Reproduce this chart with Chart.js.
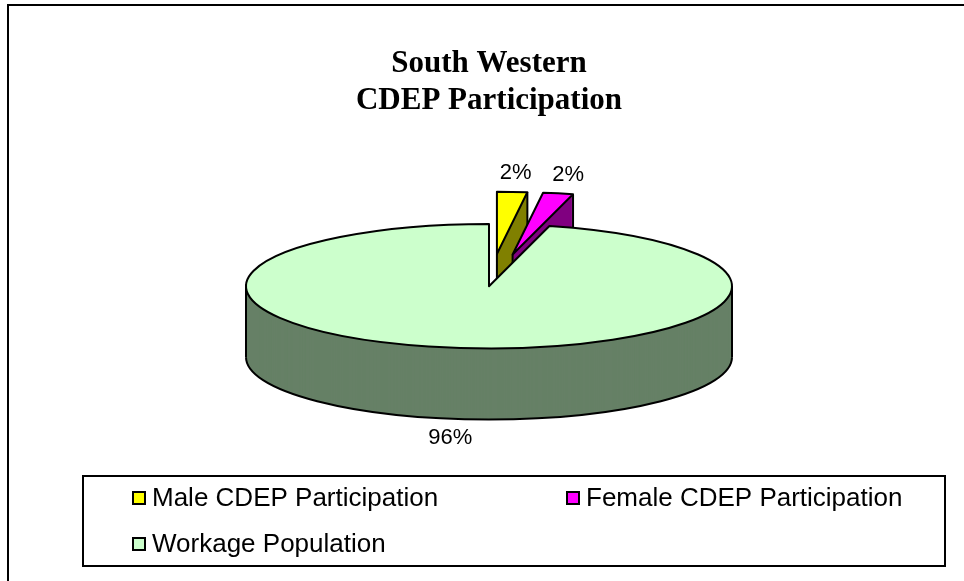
<!DOCTYPE html>
<html>
<head>
<meta charset="utf-8">
<script src="https://cdn.jsdelivr.net/npm/chart.js@4"></script>
<style>
  html, body { margin: 0; padding: 0; background: #fff; }
  #wrap { width: 964px; height: 581px; }
</style>
</head>
<body>
<div id="wrap"><canvas id="myChart" width="964" height="581"></canvas></div>
<script>
// data
const sliceLabels = ["Male CDEP Participation", "Female CDEP Participation", "Workage Population"];
const sliceValues = [2, 2, 96];
const titleLines = ["South Western", "CDEP Participation"];

// styles
const topColors = ["#FFFF00", "#FF00FF", "#CCFFCC"];
const sideColors = ["#808000", "#800080", "#668066"];
const explodedSlices = [true, true, false];

const tilt = 0.256;       // flattening of the pie
const depth = 71;         // thickness of the pie in px
const explodeDist = 126;  // pull-out distance of exploded slices
const edgeWidth = 2;
const sansFont = "'Liberation Sans', Arial, sans-serif";
const legendBox = { x: 83, y: 476, w: 862, h: 90, rowGap: 46, firstRow: 22, colX: [50, 484] };

// draw one arc element through Chart.js, flattened and shifted
function fillArc(ctx, arc, dx, dy, color) {
  const opts = arc.options;
  arc.options = Object.assign({}, opts, { backgroundColor: color, borderWidth: 0 });
  ctx.save();
  ctx.translate(arc.x + dx, arc.y + dy);
  ctx.scale(1, tilt);
  ctx.translate(-arc.x, -arc.y);
  arc.draw(ctx);
  ctx.restore();
  arc.options = opts;
}

function shiftOf(arc, i) {
  if (!explodedSlices[i]) return { dx: 0, dy: 0 };
  const mid = (arc.startAngle + arc.endAngle) / 2;
  return { dx: Math.cos(mid) * explodeDist, dy: Math.sin(mid) * explodeDist * tilt };
}

const pie3d = {
  id: "pie3d",
  beforeDatasetsDraw(chart) {
    const ctx = chart.ctx;
    const arcs = chart.getDatasetMeta(0).data;
    // back slices first
    const order = arcs.map((a, i) => i).sort((i, j) => {
      const mi = Math.sin((arcs[i].startAngle + arcs[i].endAngle) / 2);
      const mj = Math.sin((arcs[j].startAngle + arcs[j].endAngle) / 2);
      return mi - mj;
    });
    order.forEach(i => {
      const arc = arcs[i];
      const { dx, dy } = shiftOf(arc, i);
      const cx = arc.x + dx, cy = arc.y + dy;
      const r = arc.outerRadius, ry = r * tilt;

      for (let d = depth; d >= 1; d--) fillArc(ctx, arc, dx, dy + d, sideColors[i]);

      ctx.save();
      ctx.strokeStyle = "#000";
      ctx.lineWidth = edgeWidth;
      ctx.lineJoin = "round";
      // front bottom rim
      const a0 = Math.max(arc.startAngle, 0), a1 = Math.min(arc.endAngle, Math.PI);
      if (a1 > a0) {
        ctx.beginPath();
        ctx.ellipse(cx, cy + depth, r, ry, 0, a0, a1);
        ctx.stroke();
      }
      // silhouette edges
      [0, Math.PI].forEach(a => {
        if (a > arc.startAngle && a < arc.endAngle) {
          const px = cx + r * Math.cos(a), py = cy + ry * Math.sin(a);
          ctx.beginPath();
          ctx.moveTo(px, py);
          ctx.lineTo(px, py + depth);
          ctx.stroke();
        }
      });
      // visible cut faces
      const faces = [];
      if (Math.cos(arc.endAngle) > 0.01) faces.push(arc.endAngle);
      if (-Math.cos(arc.startAngle) > 0.01) faces.push(arc.startAngle);
      faces.forEach(a => {
        const px = cx + r * Math.cos(a), py = cy + ry * Math.sin(a);
        ctx.beginPath();
        ctx.moveTo(cx, cy);
        ctx.lineTo(cx, cy + depth);
        ctx.lineTo(px, py + depth);
        ctx.lineTo(px, py);
        ctx.stroke();
      });

      // top face
      fillArc(ctx, arc, dx, dy, topColors[i]);
      ctx.beginPath();
      ctx.moveTo(cx, cy);
      ctx.ellipse(cx, cy, r, ry, 0, arc.startAngle, arc.endAngle);
      ctx.closePath();
      ctx.stroke();
      ctx.restore();
    });
    return false;
  },
  afterDraw(chart) {
    const ctx = chart.ctx;
    const arcs = chart.getDatasetMeta(0).data;
    const values = chart.data.datasets[0].data;
    const total = values.reduce((s, v) => s + v, 0);

    ctx.save();
    // percentage labels
    ctx.font = "22px " + sansFont;
    ctx.fillStyle = "#000";
    ctx.textAlign = "center";
    ctx.textBaseline = "middle";
    arcs.forEach((arc, i) => {
      const { dx, dy } = shiftOf(arc, i);
      const mid = (arc.startAngle + arc.endAngle) / 2;
      const r = arc.outerRadius;
      const txt = Math.round(values[i] / total * 100) + "%";
      const w = ctx.measureText(txt).width, h = 16, pad = 11;
      let px = arc.x + dx + r * Math.cos(mid);
      let py = arc.y + dy + r * tilt * Math.sin(mid);
      if (Math.sin(mid) > 0) py += depth;
      ctx.fillText(txt, px + Math.cos(mid) * (w / 2 + pad) * 2, py + Math.sin(mid) * (h / 2 + pad));
    });

    // legend
    const lb = legendBox;
    ctx.lineWidth = 2;
    ctx.strokeStyle = "#000";
    ctx.strokeRect(lb.x, lb.y, lb.w, lb.h);
    ctx.font = "26px " + sansFont;
    ctx.textAlign = "left";
    const colors = chart.data.datasets[0].backgroundColor;
    chart.data.labels.forEach((lab, i) => {
      const col = i % 2, row = Math.floor(i / 2);
      const x = lb.x + lb.colX[col];
      const y = lb.y + lb.firstRow + row * lb.rowGap;
      ctx.fillStyle = colors[i];
      ctx.fillRect(x, y - 6, 12, 12);
      ctx.lineWidth = 2;
      ctx.strokeRect(x, y - 6, 12, 12);
      ctx.fillStyle = "#000";
      ctx.fillText(lab, x + 19, y + 1);
    });

    // outer frame (only left and top edges fall inside the picture)
    ctx.beginPath();
    ctx.moveTo(8, chart.height);
    ctx.lineTo(8, 5);
    ctx.lineTo(chart.width, 5);
    ctx.lineWidth = 2;
    ctx.stroke();
    ctx.restore();
  }
};

new Chart(document.getElementById("myChart"), {
  type: "pie",
  data: {
    labels: sliceLabels,
    datasets: [{ data: sliceValues, backgroundColor: topColors, borderWidth: 0 }]
  },
  options: {
    responsive: false,
    animation: false,
    events: [],
    radius: 243,
    layout: { padding: { left: 14, right: 0, top: 0, bottom: 128 } },
    plugins: {
      legend: { display: false },
      tooltip: { enabled: false },
      title: {
        display: true,
        text: titleLines,
        color: "#000",
        font: { family: "'Liberation Serif', 'Times New Roman', serif", size: 31, weight: "bold" },
        padding: { top: 45, bottom: 0 }
      }
    }
  },
  plugins: [pie3d]
});
</script>
</body>
</html>
